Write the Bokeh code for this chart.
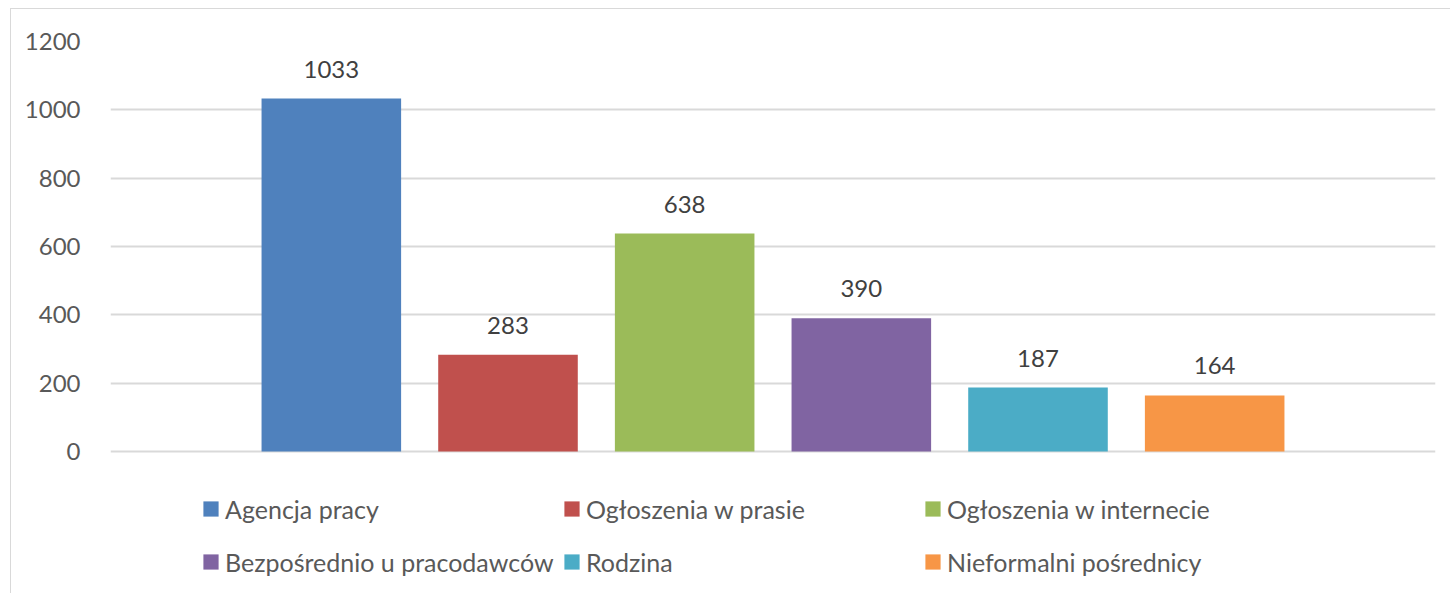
from bokeh.plotting import figure
from bokeh.models import ColumnDataSource, Legend, LegendItem, FixedTicker, Range1d, LabelSet
from bokeh.embed import file_html
from bokeh.resources import INLINE
from bokeh.core.properties import value

categories = ["Agencja pracy", "Ogłoszenia w prasie", "Ogłoszenia w internecie",
              "Bezpośrednio u pracodawców", "Rodzina", "Nieformalni pośrednicy"]
values = [1033, 283, 638, 390, 187, 164]
colors = ["#4F81BD", "#C0504D", "#9BBB59", "#8064A2", "#4BACC6", "#F79646"]
y_ticks = [0, 200, 400, 600, 800, 1000, 1200]

FONT = "Lato"

src = ColumnDataSource(dict(
    x=list(range(1, len(values) + 1)),
    top=values,
    color=colors,
    name=categories,
    label=[str(v) for v in values],
))

p = figure(width=1440, height=585, output_backend="svg", toolbar_location=None,
           x_range=Range1d(-0.25, 7.25), y_range=Range1d(-412.7, 1200),
           x_axis_type=None, min_border_left=99, min_border_right=16,
           min_border_top=32, min_border_bottom=2)
p.outline_line_color = None
p.styles = {"margin-left": "10px", "margin-top": "8px",
            "border-left": "1px solid #D9D9D9", "border-top": "1px solid #D9D9D9"}

r = p.vbar(x="x", top="top", bottom=0, width=0.79, color="color", source=src, line_color=None)

labels = LabelSet(x="x", y="top", text="label", source=src, text_align="center",
                  text_baseline="bottom", y_offset=21, text_font=value(FONT),
                  text_font_size="24px", text_color="#404040")
p.add_layout(labels)

p.yaxis.ticker = FixedTicker(ticks=y_ticks)
p.yaxis.axis_line_color = None
p.yaxis.major_tick_line_color = None
p.yaxis.minor_tick_line_color = None
p.yaxis.major_label_text_font = FONT
p.yaxis.major_label_text_font_size = "24px"
p.yaxis.major_label_text_color = "#595959"
p.yaxis.major_label_standoff = 24
p.ygrid.grid_line_color = "#D9D9D9"
p.ygrid.grid_line_width = 2
p.xgrid.grid_line_color = None

items = [LegendItem(label=c, renderers=[r], index=i) for i, c in enumerate(categories)]
legend = Legend(items=items, orientation="horizontal", ncols=3,
                location=(91, 6), glyph_width=19, glyph_height=19,
                label_standoff=5, label_width=333, label_height=49, spacing=4,
                label_text_font=FONT, label_text_font_size="25px",
                label_text_color="#595959", border_line_color=None,
                background_fill_alpha=0, padding=0, margin=0)
p.add_layout(legend, "center")

open("out.html", "w").write(file_html(p, INLINE))
